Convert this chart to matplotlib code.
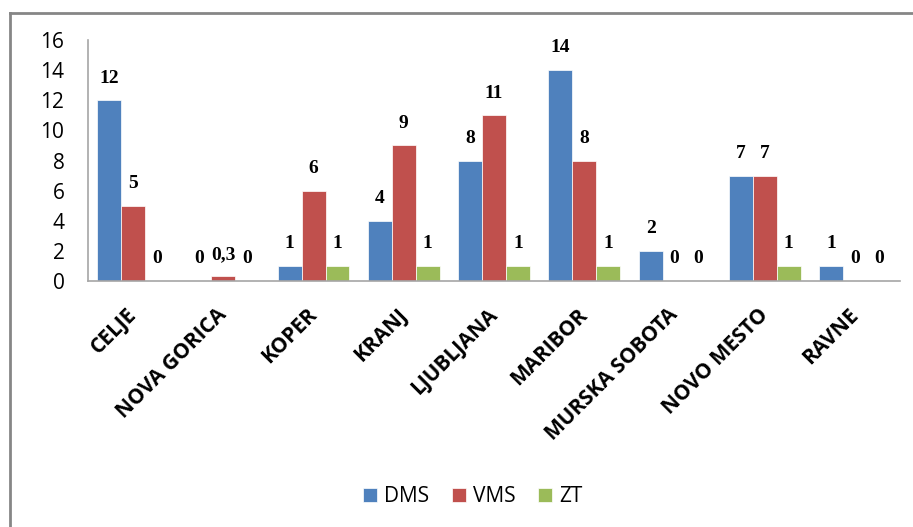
import numpy as np
import matplotlib.pyplot as plt
from matplotlib.lines import Line2D

cities = ['CELJE', 'NOVA GORICA', 'KOPER', 'KRANJ', 'LJUBLJANA',
          'MARIBOR', 'MURSKA SOBOTA', 'NOVO MESTO', 'RAVNE']
dms = [12, 0, 1, 4, 8, 14, 2, 7, 1]
vms = [5, 0.3, 6, 9, 11, 8, 0, 7, 0]
zt = [0, 0, 1, 1, 1, 1, 0, 1, 0]
yticks = [0, 2, 4, 6, 8, 10, 12, 14, 16]

series = [('DMS', dms, '#4F81BD'), ('VMS', vms, '#C0504D'), ('ZT', zt, '#9BBB59')]

fig = plt.figure(figsize=(9.13, 5.27), dpi=100)
ax = fig.add_axes([0.0964, 0.4668, 0.8896, 0.4572])

x = np.arange(len(cities))
w = 0.265
for i, (name, vals, col) in enumerate(series):
    pos = x + (i - 1) * w
    ax.bar(pos, vals, width=w, color=col, edgecolor='white', linewidth=0.5, label=name)
    for px, v in zip(pos, vals):
        txt = str(v).replace('.', ',')
        ax.annotate(txt, (px, v), xytext=(0, 16), textcoords='offset points',
                    ha='center', va='center', fontsize=14, fontweight='bold',
                    family='Liberation Serif')

ax.set_xlim(-0.5, len(cities) - 0.5)
ax.set_ylim(0, 16)
ax.set_yticks(yticks)
ax.set_yticklabels([str(t) for t in yticks], fontsize=15, family='Open Sans')
ax.set_xticks(x)
ax.set_xticklabels(cities, rotation=45, ha='right', va='center', rotation_mode='anchor',
                   fontsize=15, fontweight='bold', family='Open Sans')
ax.tick_params(axis='y', length=0, pad=17)
ax.tick_params(axis='x', length=0, pad=22)
for s in ['top', 'right']:
    ax.spines[s].set_visible(False)
for s in ['left', 'bottom']:
    ax.spines[s].set_color('#A6A6A6')
    ax.spines[s].set_linewidth(1.2)

# outer chart border
fig.add_artist(Line2D([10 / 913, 10 / 913], [0, 1 - 13 / 527], color='#868686', lw=2))
fig.add_artist(Line2D([10 / 913, 1], [1 - 13 / 527, 1 - 13 / 527], color='#868686', lw=2))

leg = fig.legend(loc='center', bbox_to_anchor=(0.518, 0.057), ncol=3, frameon=False,
                 handlelength=0.65, handleheight=0.65, handletextpad=0.35,
                 columnspacing=1.1, prop={'family': 'Open Sans', 'size': 15})

fig.savefig('out.png', dpi=100)
